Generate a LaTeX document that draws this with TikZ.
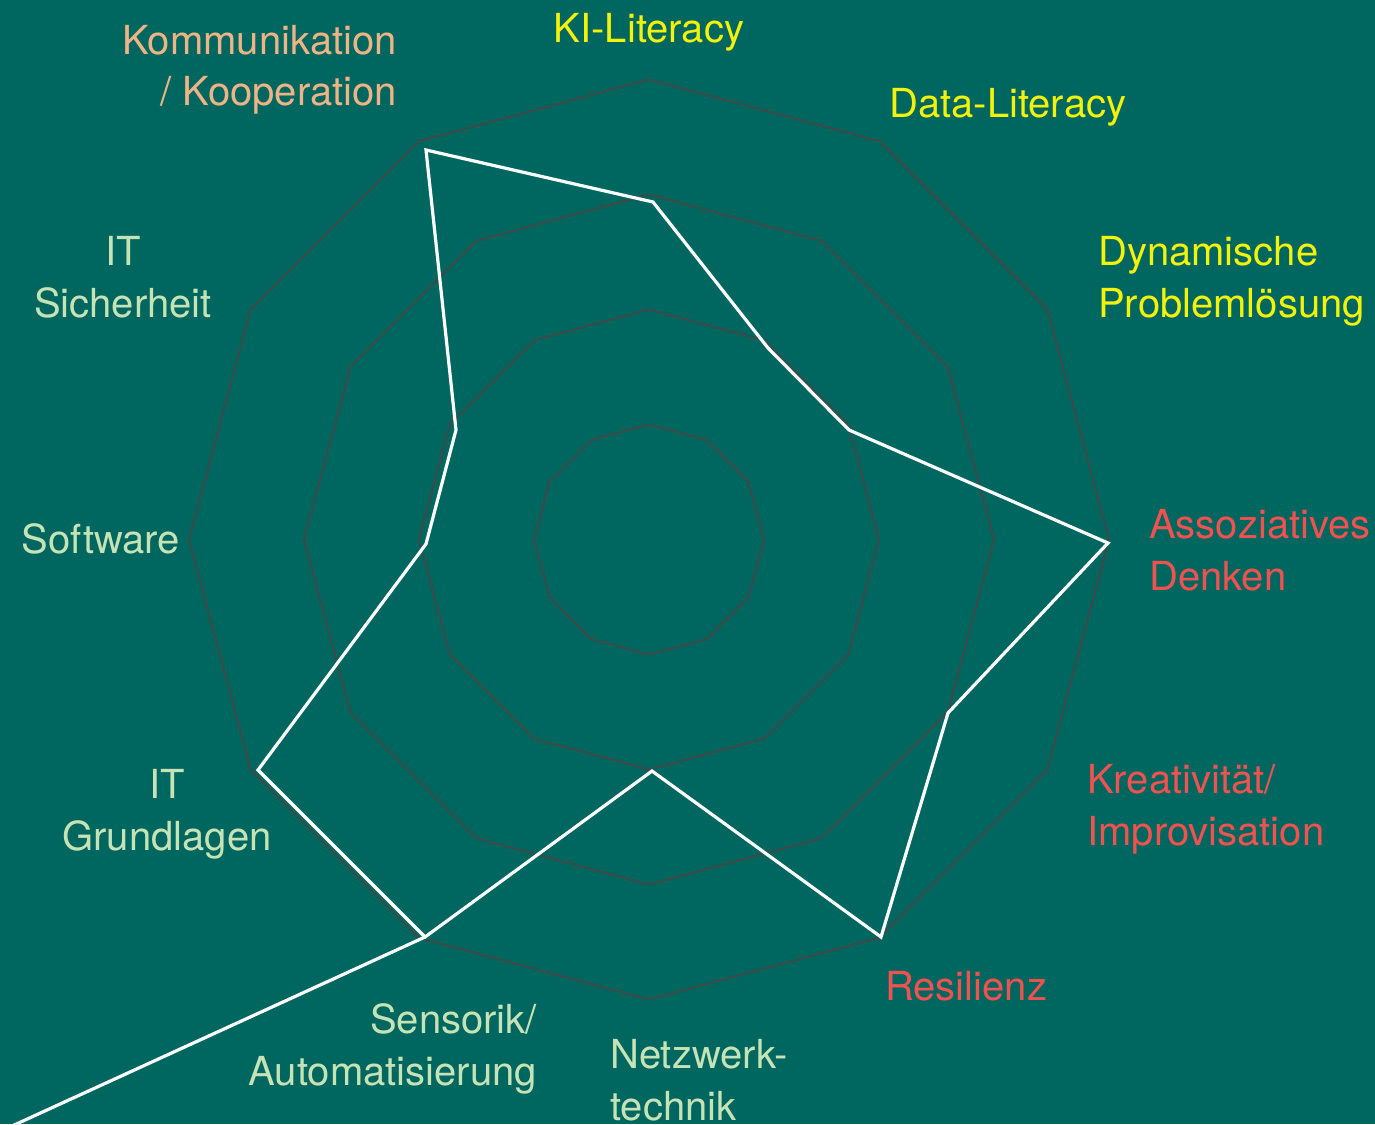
\documentclass[tikz,border=0pt]{standalone}
\usepackage{fontspec}
\setmainfont{TeX Gyre Heros}
\definecolor{bgteal}{HTML}{006660}
\definecolor{gridgray}{HTML}{3C4A48}
\definecolor{labyellow}{HTML}{F2F20A}
\definecolor{labred}{HTML}{F0524F}
\definecolor{labpeach}{HTML}{EFB486}
\definecolor{labgreen}{HTML}{C6E3B6}
\begin{document}
\begin{tikzpicture}[x=1pt,y=-1pt,
  lab/.style={inner sep=0pt,font=\fontsize{40}{52}\selectfont},
  gridline/.style={draw=gridgray,line width=2pt,line join=miter},
  dataline/.style={draw=white,line width=3.2pt,line join=miter}]
\useasboundingbox (0,0) rectangle (1375,1124);
\fill[bgteal] (0,0) rectangle (1375,1124);
\clip (0,0) rectangle (1375,1124);
% grid polygons
\foreach \r in {115,230,345,460}{
  \draw[gridline] ({649+\r*sin(0)},{539.5-\r*cos(0)})
    \foreach \a in {30,60,...,330}{ -- ({649+\r*sin(\a)},{539.5-\r*cos(\a)}) } -- cycle;
}
% data points
\coordinate (ki) at (653,202);
\coordinate (data) at (768,348);
\coordinate (dyn) at (849,430);
\coordinate (asso) at (1108,543);
\coordinate (krea) at (948,713);
\coordinate (resi) at (881,937);
\coordinate (netz) at (652,771);
\coordinate (sens) at (425,937);
\coordinate (itg) at (258,770);
\coordinate (soft) at (426,544);
\coordinate (its) at (456,430);
\coordinate (komm) at (426,150);
\coordinate (away) at (-12,1137);
\draw[dataline] (ki) -- (data) -- (dyn) -- (asso) -- (krea) -- (resi) -- (netz) -- (sens) -- (itg) -- (soft) -- (its) -- (komm) -- cycle;
\draw[dataline] (sens) -- (away);
% labels
\node[lab,text=labyellow,anchor=base] (lki) at (649,43) {KI-Literacy};
\node[lab,text=labyellow,anchor=base west] (ldata) at (889,117) {Data-Literacy};
\node[lab,text=labyellow,anchor=base west] (ldyna) at (1098,265) {Dynamische};
\node[lab,text=labyellow,anchor=base west] (ldynb) at (1098,317) {Problemlösung};
\node[lab,text=labred,anchor=base west] (lassoa) at (1149,538) {Assoziatives};
\node[lab,text=labred,anchor=base west] (lassob) at (1149,590) {Denken};
\node[lab,text=labred,anchor=base west] (lkreaa) at (1087,793) {Kreativität/};
\node[lab,text=labred,anchor=base west] (lkreab) at (1087,845) {Improvisation};
\node[lab,text=labred,anchor=base west] (lresi) at (885,1000) {Resilienz};
\node[lab,text=labgreen,anchor=base west] (lnetza) at (610,1068) {Netzwerk-};
\node[lab,text=labgreen,anchor=base west] (lnetzb) at (610,1120) {technik};
\node[lab,text=labgreen,anchor=base east] (lsensa) at (537,1033) {Sensorik/};
\node[lab,text=labgreen,anchor=base east] (lsensb) at (537,1085) {Automatisierung};
\node[lab,text=labgreen,anchor=base] (litga) at (167,798) {IT};
\node[lab,text=labgreen,anchor=base] (litgb) at (167,850) {Grundlagen};
\node[lab,text=labgreen,anchor=base east] (lsoft) at (180,553) {Software};
\node[lab,text=labgreen,anchor=base] (litsa) at (123,265) {IT};
\node[lab,text=labgreen,anchor=base] (litsb) at (123,317) {Sicherheit};
\node[lab,text=labpeach,anchor=base east] (lkomma) at (397,55) {Kommunikation};
\node[lab,text=labpeach,anchor=base east] (lkommb) at (397,105) {/ Kooperation};
\end{tikzpicture}
\end{document}
